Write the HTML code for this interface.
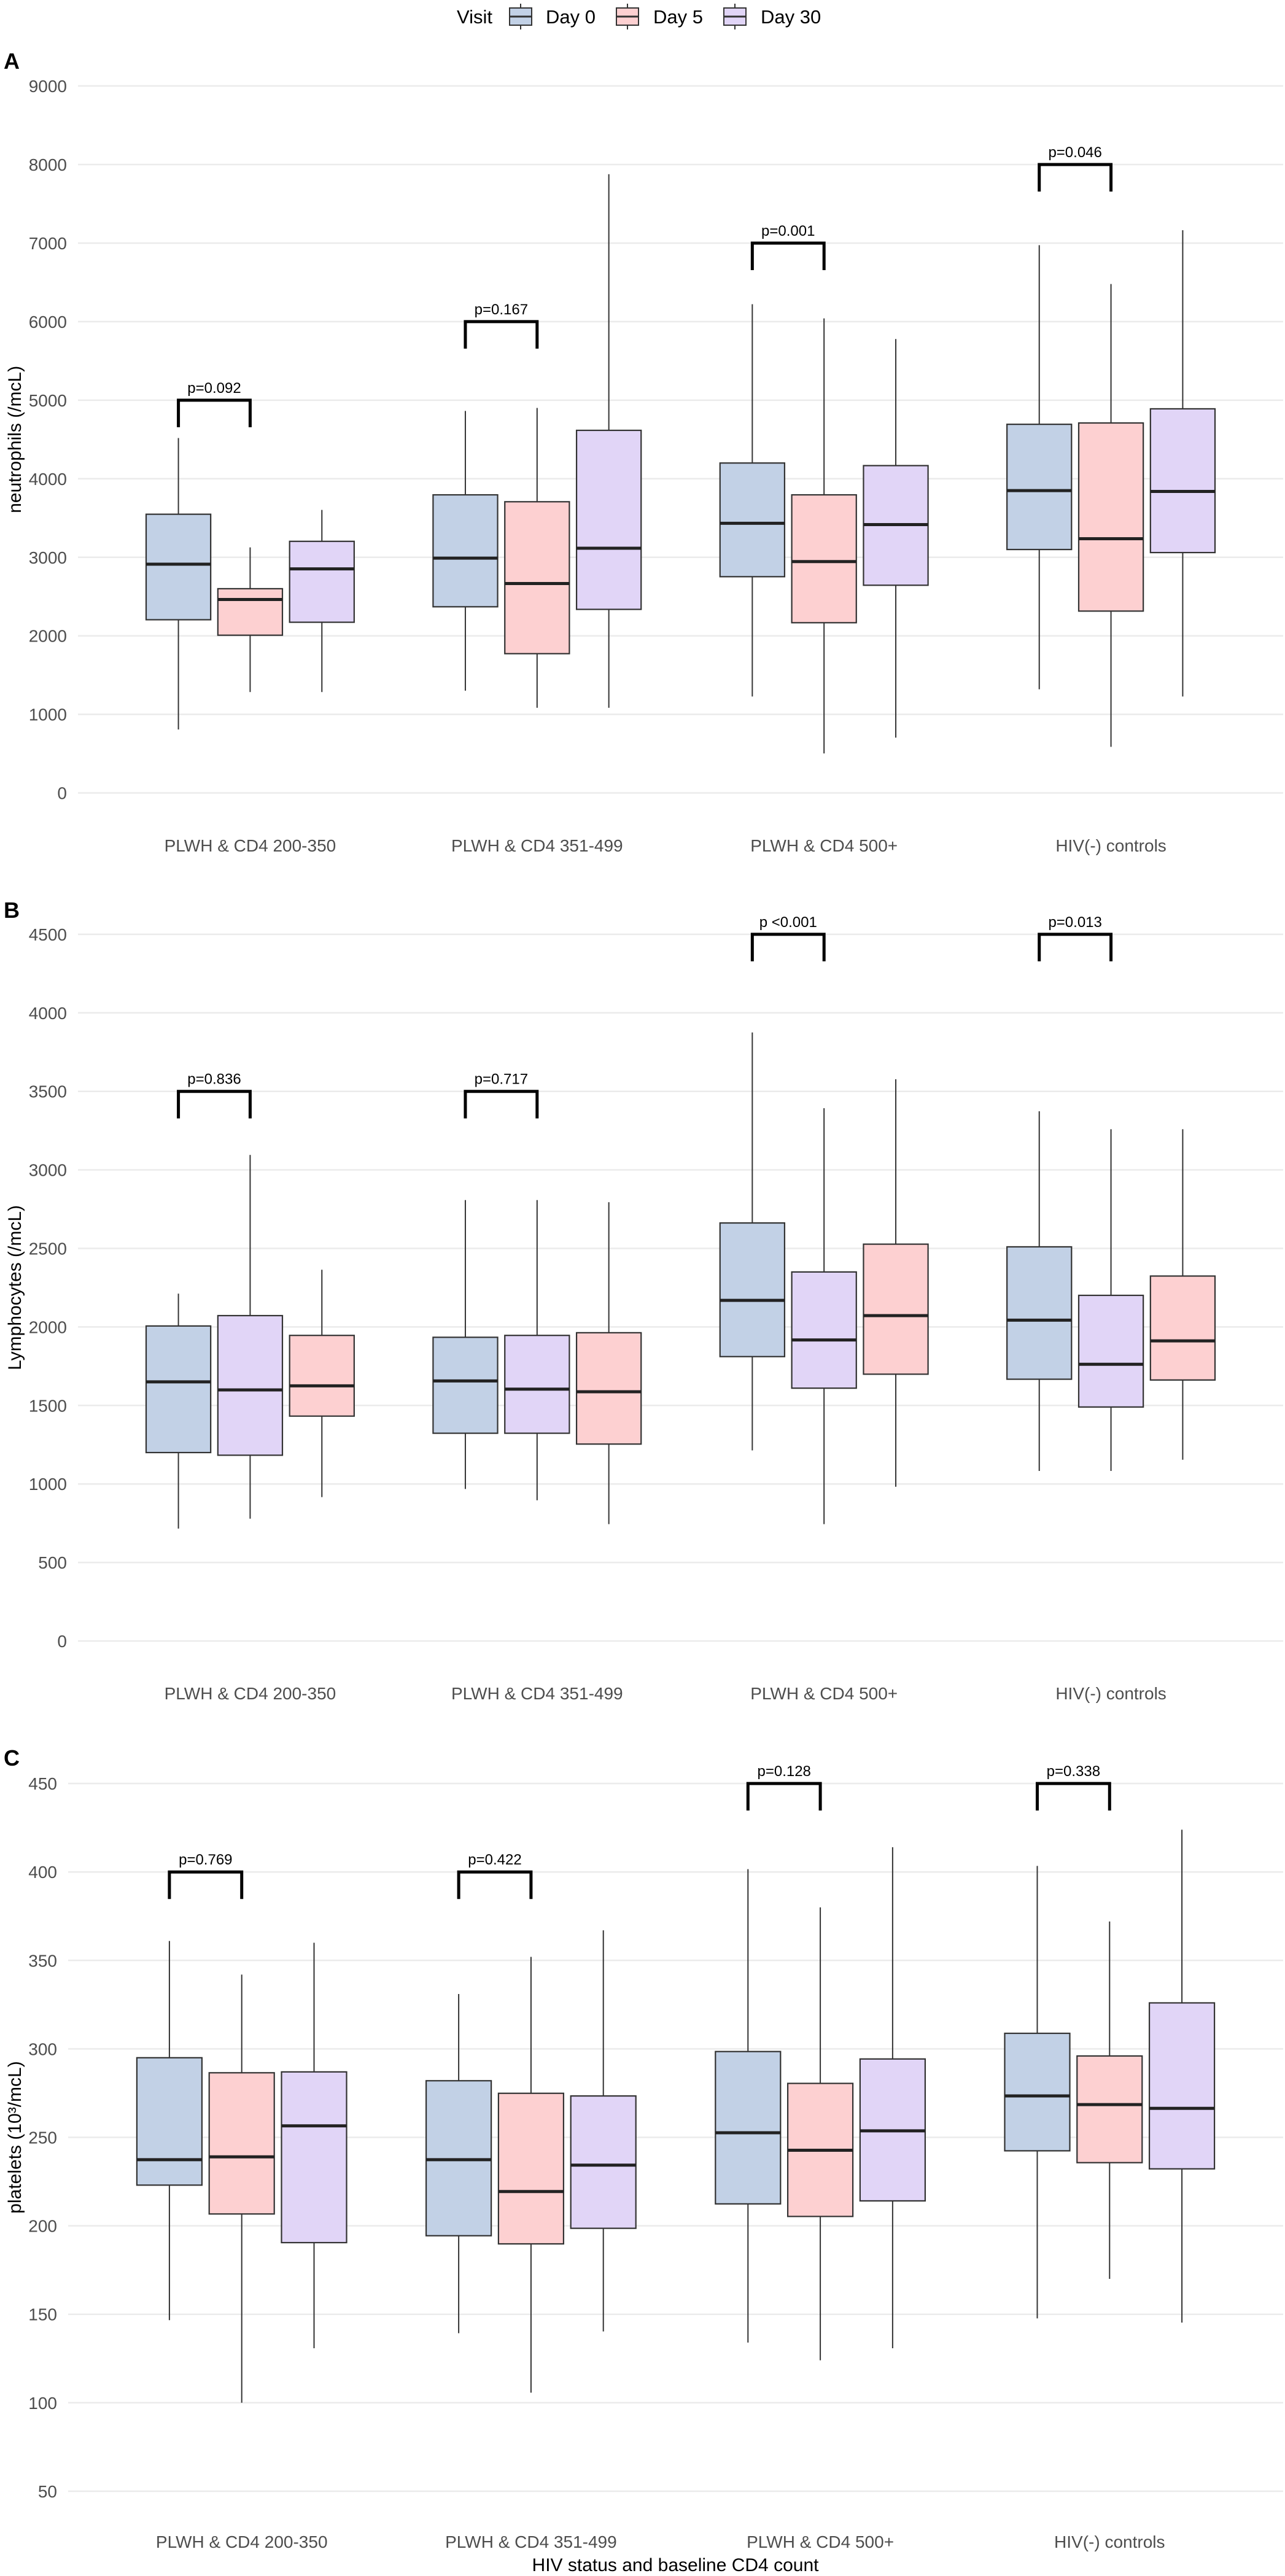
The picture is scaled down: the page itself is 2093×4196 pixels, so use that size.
<!DOCTYPE html>
<html><head><meta charset="utf-8">
<style>
html,body{margin:0;padding:0;background:#fff;}
svg{display:block;font-family:"Liberation Sans",Arial,sans-serif;}
</style></head>
<body>
<svg id="chart" width="2093" height="4196" viewBox="0 0 2093 4196" xmlns="http://www.w3.org/2000/svg">
  <g>
    <text x="744" y="38" font-size="31" fill="#000">Visit</text>
    <g>
      <line x1="848" y1="6" x2="848" y2="48" stroke="#333" stroke-width="2"/>
      <rect x="830" y="13" width="36" height="28" fill="#c2d1e6" stroke="#333" stroke-width="2"/>
      <line x1="830" y1="27" x2="866" y2="27" stroke="#333" stroke-width="3"/>
      <text x="889" y="38" font-size="31" fill="#000">Day 0</text>
    </g>
    <g>
      <line x1="1022" y1="6" x2="1022" y2="48" stroke="#333" stroke-width="2"/>
      <rect x="1004" y="13" width="36" height="28" fill="#fdd0d1" stroke="#333" stroke-width="2"/>
      <line x1="1004" y1="27" x2="1040" y2="27" stroke="#333" stroke-width="3"/>
      <text x="1064" y="38" font-size="31" fill="#000">Day 5</text>
    </g>
    <g>
      <line x1="1197" y1="6" x2="1197" y2="48" stroke="#333" stroke-width="2"/>
      <rect x="1179" y="13" width="36" height="28" fill="#e1d5f7" stroke="#333" stroke-width="2"/>
      <line x1="1179" y1="27" x2="1215" y2="27" stroke="#333" stroke-width="3"/>
      <text x="1239" y="38" font-size="31" fill="#000">Day 30</text>
    </g>
  </g>
</svg>
<script>
// ---- shared data ----
const categories = ["PLWH & CD4 200-350","PLWH & CD4 351-499","PLWH & CD4 500+","HIV(-) controls"];

// Panel A: neutrophils, [low, q1, median, q3, high] per category
const A_ticks = [0,1000,2000,3000,4000,5000,6000,7000,8000,9000];
const A_day0  = [[808,2205,2912,3548,4518],[1302,2370,2989,3795,4863],[1228,2753,3433,4200,6222],[1320,3099,3849,4693,6973]];
const A_day5  = [[1284,2008,2463,2600,3126],[1084,1773,2666,3707,4901],[503,2167,2945,3795,6041],[587,2315,3236,4710,6479]];
const A_day30 = [[1284,2173,2852,3203,3603],[1084,2337,3115,4616,7877],[704,2644,3416,4167,5778],[1228,3060,3838,4890,7164]];
const A_pvals = ["p=0.092","p=0.167","p=0.001","p=0.046"];
const A_pY    = [5000,6000,7000,8000];

// Panel B: lymphocytes
const B_ticks = [0,500,1000,1500,2000,2500,3000,3500,4000,4500];
const B_s1 = [[716,1200,1650,2006,2212],[968,1323,1656,1934,2808],[1214,1811,2169,2662,3875],[1083,1667,2043,2510,3373]];
const B_s2 = [[779,1183,1599,2072,3095],[896,1323,1604,1946,2808],[744,1610,1917,2350,3393],[1083,1490,1762,2201,3259]];
const B_s3 = [[916,1432,1625,1946,2364],[744,1254,1587,1963,2794],[982,1699,2072,2527,3577],[1154,1662,1911,2324,3259]];
const B_pvals = ["p=0.836","p=0.717","p <0.001","p=0.013"];
const B_pY    = [3500,3500,4500,4500];

// Panel C: platelets
const C_ticks = [50,100,150,200,250,300,350,400,450];
const C_day0  = [[146.7,223,237.4,295,361],[139.3,194.4,237.4,282,331],[134,212.4,252.6,298.5,401.6],[147.7,242.4,273.4,308.8,403.4]];
const C_day5  = [[100,206.7,239,286.5,342],[105.7,189.8,219.4,274.9,352],[124,205.3,242.7,280.5,380],[170,235.7,268.5,296,372]];
const C_day30 = [[130.8,190.5,256.5,287,360],[140.3,198.6,234.3,273.4,367],[130.8,214.1,253.7,294.3,414],[145.3,232.2,266.4,326,423.9]];
const C_pvals = ["p=0.769","p=0.422","p=0.128","p=0.338"];
const C_pY    = [400,400,450,450];

const BLUE="#c2d1e6", PINK="#fdd0d1", PURPLE="#e1d5f7";
const NS="http://www.w3.org/2000/svg";
const svg=document.getElementById('chart');
function mk(tag, attrs, parent){
  const e=document.createElementNS(NS,tag);
  for(const k in attrs) e.setAttribute(k,attrs[k]);
  (parent||svg).appendChild(e);
  return e;
}

function panel(cfg){
  const g=mk('g',{});
  
  
  const left=cfg.left, right=2090;
  const unit=(right-left)/4.2;
  const y=v=>cfg.y0 - v*cfg.k;
  const xc=i=>left+(i+0.6)*unit;
  // panel letter
  const lt=mk('text',{x:6,y:cfg.letterY,'font-size':36,'font-weight':'bold',fill:'#000'},g);
  lt.textContent=cfg.letter;
  
  
  // gridlines + tick labels
  cfg.ticks.forEach(t=>{
    const gl=mk('line',{x1:left,x2:right,y1:y(t),y2:y(t),stroke:'#ebebeb','stroke-width':2.5},g);
    
    
    const tl=mk('text',{x:left-18,y:y(t)+10,'text-anchor':'end','font-size':28,fill:'#4d4d4d'},g);
    tl.textContent=t;
    
    
  });
  // y title
  const yt=mk('text',{x:0,y:0,'text-anchor':'middle','font-size':30,fill:'#000',transform:`translate(34,${(y(cfg.ticks[0])+y(cfg.ticks[cfg.ticks.length-1]))/2}) rotate(-90)`},g);
  yt.textContent=cfg.ytitle;
  
  
  // category labels
  categories.forEach((c,i)=>{
    const cl=mk('text',{x:xc(i),y:cfg.catY,'text-anchor':'middle','font-size':28,fill:'#4d4d4d'},g);
    cl.textContent=c;
    
    
  });
  // boxes
  const dodge=0.25*unit, bw=0.225*unit;
  cfg.series.forEach((s,si)=>{
    s.data.forEach((d,i)=>{
      const cx=xc(i)+(si-1)*dodge;
      const bg=mk('g',{},g);
      
      
      mk('line',{x1:cx,x2:cx,y1:y(d[4]),y2:y(d[3]),stroke:'#333','stroke-width':2},bg);
      mk('line',{x1:cx,x2:cx,y1:y(d[1]),y2:y(d[0]),stroke:'#333','stroke-width':2},bg);
      mk('rect',{x:cx-bw/2,y:y(d[3]),width:bw,height:y(d[1])-y(d[3]),fill:s.color,stroke:'#333','stroke-width':2.2},bg);
      mk('line',{x1:cx-bw/2,x2:cx+bw/2,y1:y(d[2]),y2:y(d[2]),stroke:'#222','stroke-width':5},bg);
    });
  });
  // p-value brackets
  cfg.pvals.forEach((p,i)=>{
    const x1=xc(i)-dodge, x2=xc(i);
    const yt2=y(cfg.pY[i]), yb=yt2+44;
    const br=mk('path',{d:`M${x1},${yb} L${x1},${yt2} L${x2},${yt2} L${x2},${yb}`,fill:'none',stroke:'#000','stroke-width':5},g);
    
    
    const pt=mk('text',{x:(x1+x2)/2,y:yt2-12,'text-anchor':'middle','font-size':24,fill:'#000'},g);
    pt.textContent=p;
    
    
  });
}

panel({name:'panel-a-neutrophils',letter:'A',letterY:112,left:127,y0:1291.6,k:0.12795,ticks:A_ticks,
  ytitle:'neutrophils (/mcL)',catY:1387,pvals:A_pvals,pY:A_pY,
  series:[{key:'day0',color:BLUE,data:A_day0},{key:'day5',color:PINK,data:A_day5},{key:'day30',color:PURPLE,data:A_day30}]});
panel({name:'panel-b-lymphocytes',letter:'B',letterY:1495,left:127,y0:2673,k:0.2558,ticks:B_ticks,
  ytitle:'Lymphocytes (/mcL)',catY:2768,pvals:B_pvals,pY:B_pY,
  series:[{key:'series1',color:BLUE,data:B_s1},{key:'series2',color:PURPLE,data:B_s2},{key:'series3',color:PINK,data:B_s3}]});
panel({name:'panel-c-platelets',letter:'C',letterY:2876,left:111,y0:4202,k:2.882,ticks:C_ticks,
  ytitle:'platelets (10³/mcL)',catY:4150,pvals:C_pvals,pY:C_pY,
  series:[{key:'day0',color:BLUE,data:C_day0},{key:'day5',color:PINK,data:C_day5},{key:'day30',color:PURPLE,data:C_day30}]});

const xt=mk('text',{x:1100,y:4188,'text-anchor':'middle','font-size':30,fill:'#000'});
xt.textContent='HIV status and baseline CD4 count';


</script>
</body></html>
